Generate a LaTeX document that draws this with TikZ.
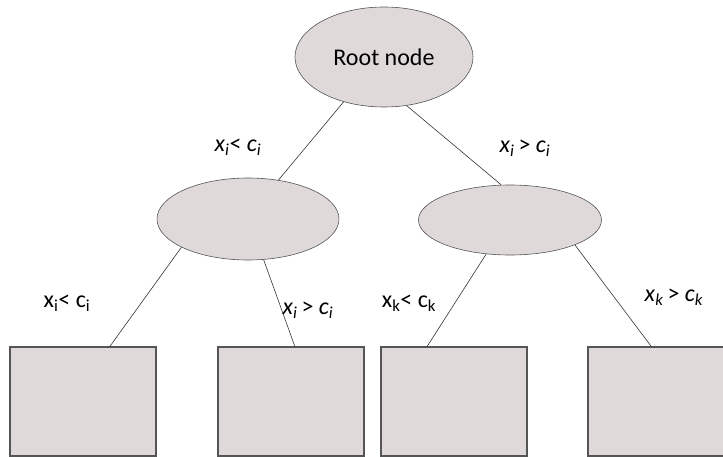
\documentclass[tikz,border=0pt]{standalone}
\usepackage{fontspec}
\setmainfont{Carlito}
\usetikzlibrary{shapes}
\definecolor{nodefill}{RGB}{224,217,218}
\definecolor{nodeline}{RGB}{85,85,85}
\newcommand{\rel}[5]{#1\textsubscript{#2}#3 #4\textsubscript{#5}}
\newcommand{\relit}[5]{\textit{#1}\textsubscript{\textit{#2}}#3 \textit{#4}\textsubscript{\textit{#5}}}

\begin{document}
\begin{tikzpicture}[x=1pt,y=-1pt,semithick,
    every node/.style={font=\fontsize{24}{28}\selectfont},
    split/.style={shape=ellipse,draw=nodeline,fill=nodefill,inner sep=0pt},
    leaf/.style={shape=rectangle,draw=nodeline,fill=nodefill,line width=1.1pt,
        minimum width=146pt,minimum height=109pt,inner sep=0pt}]
                \useasboundingbox (0,0) rectangle (723,457);
                \node[split,minimum width=178pt,minimum height=100pt](root)at(384, 57){Root node};
                \node[split,minimum width=182pt,minimum height=82pt](left)at(248, 219){};
                \node[split,minimum width=183pt,minimum height=70pt](right)at(510, 220){};

                \node[leaf](leaf1)at(83, 401.5){};
                \node[leaf](leaf2)at(291, 401.5){};
                \node[leaf](leaf3)at(454, 401.5){};
                \node[leaf](leaf4)at(661, 401.5){};

                \node[style={}](lt)at(238, 147){\relit{x}{i}{<}{c}{i}};
                \node[style={}](rt)at(525, 148){\relit{x}{i}{\,>}{c}{i}};
                \node[style={}](l1)at(67, 303){\rel{x}{i}{<}{c}{i}};
                \node[style={}](l2)at(308, 310){\relit{x}{i}{\,>}{c}{i}};
                \node[style={}](l3)at(409, 303){\rel{x}{k}{<}{c}{k}};
                \node[style={}](l4)at(674, 297){\relit{x}{k}{\,>}{c}{k}};

                \path[draw=black!80,line width=0.6pt]
                (root.228) edge (left.52)
                (root.295) edge (right.104)
                (left.203) edge (leaf1.64)
                (left.291) edge (leaf2.86)
                (right.235) edge (leaf3.116)
                (right.339) edge (leaf4.100);
\end{tikzpicture}
\end{document}
